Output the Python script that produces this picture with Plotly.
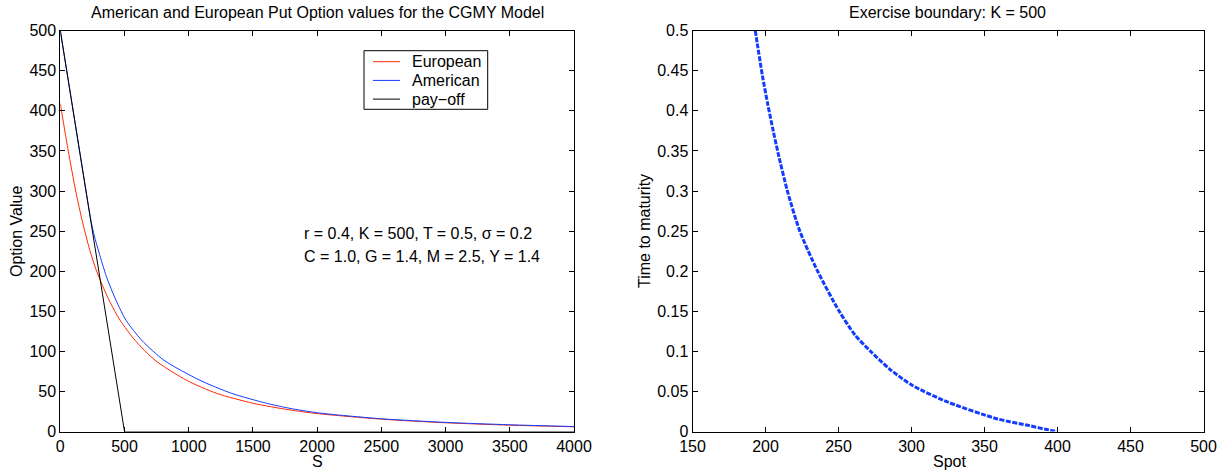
import plotly.graph_objects as go

# ---------------- data ----------------
# Left panel: put option values vs spot S
S_eur = [0, 30, 62, 120, 175, 230, 283, 379, 465, 581, 737, 983, 1217, 1502, 1788, 2000, 2500, 3000, 3500, 4000]
V_eur = [409, 380, 350, 300, 260, 226, 200, 164, 139, 114, 89, 64, 47.7, 35.3, 27, 22.5, 15.5, 11, 8, 6]

S_am = [0, 100, 192, 215, 240, 265, 300, 360, 433, 511, 633, 807, 1087, 1334, 1606, 1788, 2000, 2500, 3000, 3500, 4000]
V_am = [500, 400, 308, 285.3, 262, 244, 224, 193, 164, 139, 114, 89, 64, 47.7, 35.3, 29, 23.5, 16, 11.5, 8.5, 6.3]

S_pay = [0, 500, 4000]
V_pay = [500, 0, 0]

legend_names = ["European", "American", "pay\u2212off"]

# Right panel: exercise boundary (spot, time to maturity)
bnd_spot = [193, 194.4, 197.9, 201.6, 205.3, 208.7, 215, 223.5, 235.7, 250.5, 261.5, 272, 285, 300.7, 325, 359, 380.5, 394, 400]
bnd_time = [0.5, 0.4834, 0.4437, 0.4076, 0.3749, 0.3467, 0.30, 0.25, 0.20, 0.15, 0.12, 0.10, 0.078, 0.0575, 0.0367, 0.0158, 0.0075, 0.002, 0.0]

params_line1 = "r = 0.4, K = 500, T = 0.5, \u03c3 = 0.2"
params_line2 = "C = 1.0, G = 1.4, M = 2.5, Y = 1.4"

# ---------------- figure ----------------
W, H = 1225, 472
FONT = "Liberation Sans, Arial, Helvetica, sans-serif"
FS = 16
RED = "rgb(255,40,0)"
BLUE = "rgb(20,60,255)"
colors = [RED, BLUE, "black"]

fig = go.Figure()
fig.add_trace(go.Scatter(x=S_eur, y=V_eur, mode="lines", name=legend_names[0],
                         line=dict(color=RED, width=1, shape="spline", smoothing=0.7),
                         xaxis="x", yaxis="y", showlegend=False))
fig.add_trace(go.Scatter(x=S_am, y=V_am, mode="lines", name=legend_names[1],
                         line=dict(color=BLUE, width=1, shape="spline", smoothing=0.7),
                         xaxis="x", yaxis="y", showlegend=False))
fig.add_trace(go.Scatter(x=S_pay, y=V_pay, mode="lines", name=legend_names[2],
                         line=dict(color="black", width=1),
                         xaxis="x", yaxis="y", showlegend=False))
fig.add_trace(go.Scatter(x=bnd_spot, y=bnd_time, mode="lines", showlegend=False,
                         line=dict(color=BLUE, width=3, dash="5px,1.5px", shape="spline", smoothing=0.7),
                         xaxis="x2", yaxis="y2"))

axis_common = dict(showline=True, linecolor="black", linewidth=1, mirror="ticks",
                   ticks="inside", ticklen=5, tickwidth=1, tickcolor="black",
                   showgrid=False, zeroline=False, automargin=False,
                   tickfont=dict(family=FONT, size=FS, color="black"))

def px(x):
    return x / W

def py(y):
    return (H - y) / H

ydom = [py(431.6), py(30.6)]
fig.update_layout(
    width=W, height=H,
    margin=dict(l=0, r=0, t=0, b=0, autoexpand=False),
    paper_bgcolor="white", plot_bgcolor="white",
    font=dict(family=FONT, size=FS, color="black"),
    xaxis=dict(domain=[px(60.3), px(574)], range=[0, 4000], dtick=500, **axis_common),
    yaxis=dict(domain=ydom, range=[0, 500], dtick=50, **axis_common),
    xaxis2=dict(domain=[px(692.5), px(1203.5)], range=[150, 500], dtick=50,
                anchor="y2", **axis_common),
    yaxis2=dict(domain=ydom, range=[0, 0.5], dtick=0.05, anchor="x2", **axis_common),
    showlegend=False,
)

ann = []
def add_text(text, x, y, size=FS, angle=0, xanchor="center"):
    ann.append(dict(text=text, x=px(x), y=py(y), xref="paper", yref="paper", showarrow=False,
                    xanchor=xanchor, yanchor="middle", textangle=angle,
                    font=dict(family=FONT, size=size, color="black")))

add_text("American and European Put Option values for the CGMY Model", 317, 12)
add_text("Exercise boundary: K = 500", 948, 12)
add_text("S", 317, 461)
add_text("Spot", 949, 461)
add_text("Option Value", 16, 232, angle=-90)
add_text("Time to maturity", 644, 231, angle=-90)
add_text(params_line1, 302, 233, xanchor="left")
add_text(params_line2, 302, 256.7, xanchor="left")

# legend box (drawn to match the compact MATLAB legend)
shapes = [dict(type="rect", xref="paper", yref="paper", x0=px(364), x1=px(487.7),
               y0=py(109.3), y1=py(50.7), line=dict(color="black", width=1),
               fillcolor="white", layer="above")]
for i, (name, col) in enumerate(zip(legend_names, colors)):
    yy = 61.7 + i * 18.7
    shapes.append(dict(type="line", xref="paper", yref="paper", x0=px(373), x1=px(400),
                       y0=py(yy), y1=py(yy), line=dict(color=col, width=1), layer="above"))
    add_text(name, 410, yy, xanchor="left")

fig.update_layout(annotations=ann, shapes=shapes)

fig.write_html("out.html", config={"displayModeBar": False},
               post_script="document.body.style.margin='0px';document.body.style.overflow='hidden';")
